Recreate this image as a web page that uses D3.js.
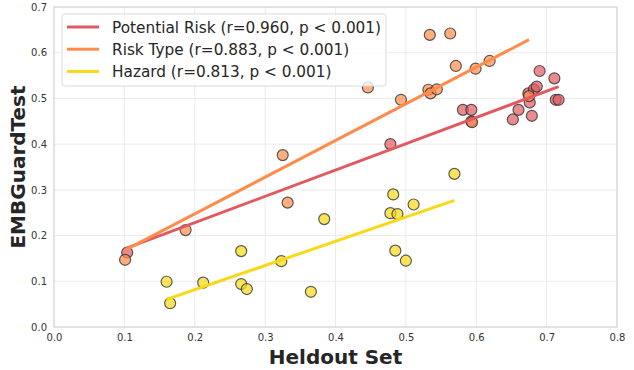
<!DOCTYPE html>
<html>
<head>
<meta charset="utf-8">
<script src="https://cdn.jsdelivr.net/npm/d3@7"></script>
<style>
  body { margin: 0; background: #fff; }
  svg { display: block; font-family: "DejaVu Sans", sans-serif; }
</style>
</head>
<body>
<div id="chart"></div>
<script>
'use strict';

// values
var seriesNames = ['Potential Risk', 'Risk Type', 'Hazard'];
var legendLabels = [
  'Potential Risk (r=0.960, p < 0.001)',
  'Risk Type (r=0.883, p < 0.001)',
  'Hazard (r=0.813, p < 0.001)'
];

var riskX = [0.104, 0.478, 0.581, 0.593, 0.593, 0.652, 0.660, 0.679, 0.676, 0.674, 0.682, 0.686, 0.690, 0.711, 0.713, 0.717];
var riskY = [0.163, 0.400, 0.475, 0.475, 0.450, 0.454, 0.475, 0.462, 0.491, 0.511, 0.520, 0.526, 0.560, 0.544, 0.497, 0.497];

var typeX = [0.101, 0.187, 0.332, 0.325, 0.446, 0.493, 0.534, 0.563, 0.571, 0.599, 0.619, 0.532, 0.535, 0.544, 0.594, 0.675];
var typeY = [0.147, 0.212, 0.272, 0.376, 0.524, 0.497, 0.639, 0.642, 0.571, 0.565, 0.582, 0.519, 0.511, 0.520, 0.448, 0.505];

var hazardX = [0.165, 0.160, 0.212, 0.266, 0.266, 0.274, 0.323, 0.365, 0.384, 0.482, 0.478, 0.488, 0.511, 0.485, 0.500, 0.569];
var hazardY = [0.052, 0.099, 0.097, 0.166, 0.094, 0.083, 0.144, 0.077, 0.236, 0.290, 0.249, 0.247, 0.268, 0.167, 0.145, 0.335];

var xTicks = [0, 0.1, 0.2, 0.3, 0.4, 0.5, 0.6, 0.7, 0.8];
var yTicks = [0, 0.1, 0.2, 0.3, 0.4, 0.5, 0.6, 0.7];

var lineColors = ['#e05a5f', '#ff8c4a', '#f7d916'];

var W = 634, H = 370;
var margin = {top: 7, right: 17, bottom: 43, left: 54};
var width = W - margin.left - margin.right;
var height = H - margin.top - margin.bottom;

var series = [
  {name: seriesNames[0], xs: riskX, ys: riskY, color: lineColors[0]},
  {name: seriesNames[1], xs: typeX, ys: typeY, color: lineColors[1]},
  {name: seriesNames[2], xs: hazardX, ys: hazardY, color: lineColors[2]}
];

// least squares fit over the data range
function fit(xs, ys) {
  var mx = d3.mean(xs), my = d3.mean(ys);
  var sxy = d3.sum(xs, function(x, i){ return (x - mx) * (ys[i] - my); });
  var sxx = d3.sum(xs, function(x){ return (x - mx) * (x - mx); });
  var b = sxy / sxx, a = my - b * mx;
  var ext = d3.extent(xs);
  return [[ext[0], a + b * ext[0]], [ext[1], a + b * ext[1]]];
}

var x = d3.scaleLinear().domain([0, 0.8]).range([0, width]);
var y = d3.scaleLinear().domain([0, 0.7]).range([height, 0]);

var svg = d3.select('#chart').append('svg')
  .attr('width', W)
  .attr('height', H);

var g = svg.append('g')
  .attr('transform', 'translate(' + margin.left + ',' + margin.top + ')');

// grid
g.append('g')
  .selectAll('line')
  .data(xTicks)
  .enter().append('line')
    .attr('x1', function(d){ return x(d); })
    .attr('x2', function(d){ return x(d); })
    .attr('y1', 0)
    .attr('y2', height)
    .style('stroke', '#ebebeb')
    .style('stroke-width', 1);

g.append('g')
  .selectAll('line')
  .data(yTicks)
  .enter().append('line')
    .attr('x1', 0)
    .attr('x2', width)
    .attr('y1', function(d){ return y(d); })
    .attr('y2', function(d){ return y(d); })
    .style('stroke', '#ebebeb')
    .style('stroke-width', 1);

// axes (labels only, frame drawn separately)
var xAxis = g.append('g')
  .attr('transform', 'translate(0,' + height + ')')
  .call(d3.axisBottom(x).tickValues(xTicks).tickFormat(d3.format('.1f')).tickSize(0).tickPadding(7));

var yAxis = g.append('g')
  .call(d3.axisLeft(y).tickValues(yTicks).tickFormat(d3.format('.1f')).tickSize(0).tickPadding(7));

[xAxis, yAxis].forEach(function(ax){
  ax.select('.domain').remove();
  ax.selectAll('text')
    .style('font-family', '"DejaVu Sans", sans-serif')
    .style('font-size', '10px')
    .style('fill', '#333');
});

g.append('rect')
  .attr('width', width)
  .attr('height', height)
  .style('fill', 'none')
  .style('stroke', '#d6d6d6')
  .style('stroke-width', 1.2);

// points
series.forEach(function(s){
  g.append('g')
    .selectAll('circle')
    .data(s.xs)
    .enter().append('circle')
      .attr('cx', function(d){ return x(d); })
      .attr('cy', function(d, i){ return y(s.ys[i]); })
      .attr('r', 5.5)
      .style('fill', s.color)
      .style('fill-opacity', 0.7)
      .style('stroke', '#333')
      .style('stroke-opacity', 0.8)
      .style('stroke-width', 1.2);
});

// regression lines
var line = d3.line()
  .x(function(d){ return x(d[0]); })
  .y(function(d){ return y(d[1]); });

series.forEach(function(s){
  g.append('path')
    .attr('d', line(fit(s.xs, s.ys)))
    .style('fill', 'none')
    .style('stroke', s.color)
    .style('stroke-width', 3)
    .style('stroke-linecap', 'butt');
});

// legend
var legend = g.append('g').attr('transform', 'translate(8,7)');
legend.append('rect')
  .attr('width', 324)
  .attr('height', 72)
  .attr('rx', 3)
  .style('fill', '#fff')
  .style('fill-opacity', 0.8)
  .style('stroke', '#d9d9d9')
  .style('stroke-width', 1);

legendLabels.forEach(function(label, i){
  var row = legend.append('g').attr('transform', 'translate(0,' + (13 + i * 22.2) + ')');
  row.append('line')
    .attr('x1', 5).attr('x2', 37)
    .style('stroke', lineColors[i])
    .style('stroke-width', 3);
  row.append('text')
    .attr('x', 50)
    .attr('y', 5.6)
    .style('font-size', '15.3px')
    .style('fill', '#262626')
    .text(label);
});

// axis titles
svg.append('text')
  .attr('x', margin.left + width / 2)
  .attr('y', 364)
  .attr('text-anchor', 'middle')
  .style('font-size', '20px')
  .style('font-weight', 'bold')
  .style('fill', '#262626')
  .text('Heldout Set');

svg.append('text')
  .attr('transform', 'translate(25,' + (margin.top + height / 2) + ') rotate(-90)')
  .attr('text-anchor', 'middle')
  .style('font-size', '20px')
  .style('font-weight', 'bold')
  .style('fill', '#262626')
  .text('EMBGuardTest');
</script>
</body>
</html>
